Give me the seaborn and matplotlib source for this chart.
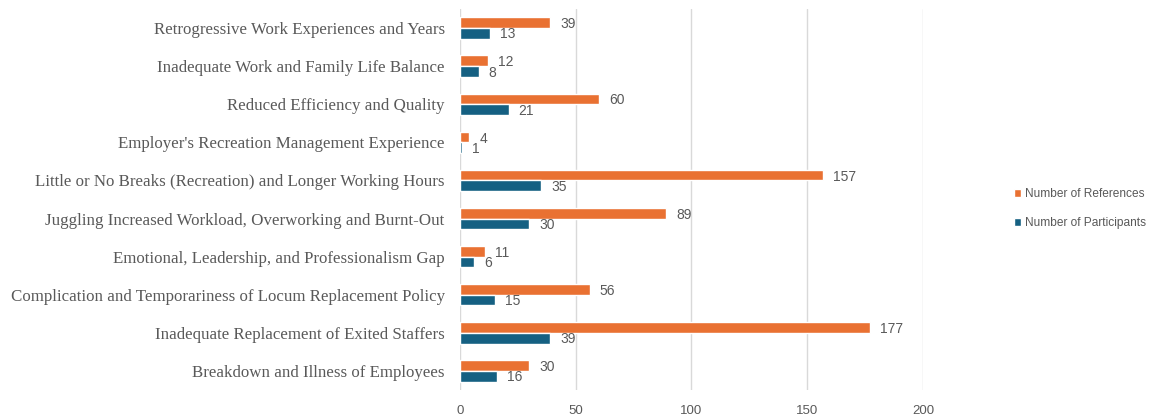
import matplotlib
matplotlib.use("Agg")
import matplotlib.pyplot as plt
import seaborn as sns
import pandas as pd
from matplotlib.patches import Patch

categories = [
    "Retrogressive Work Experiences and Years",
    "Inadequate Work and Family Life Balance",
    "Reduced Efficiency and Quality",
    "Employer's Recreation Management Experience",
    "Little or No Breaks (Recreation) and Longer Working Hours",
    "Juggling Increased Workload, Overworking and Burnt-Out",
    "Emotional, Leadership, and Professionalism Gap",
    "Complication and Temporariness of Locum Replacement Policy",
    "Inadequate Replacement of Exited Staffers",
    "Breakdown and Illness of Employees",
]
references = [39, 12, 60, 4, 157, 89, 11, 56, 177, 30]
participants = [13, 8, 21, 1, 35, 30, 6, 15, 39, 16]
series_names = ["Number of References", "Number of Participants"]
x_ticks = [0, 50, 100, 150, 200]

colors = {"Number of References": "#E97132", "Number of Participants": "#156082"}
text_color = "#595959"

df = pd.DataFrame({
    "category": categories * 2,
    "value": references + participants,
    "series": [series_names[0]] * len(categories) + [series_names[1]] * len(categories),
})

sns.set_style("white")
fig = plt.figure(figsize=(11.5, 4.16), dpi=100)
ax = fig.add_axes([0.4, 0.0625, 0.4026, 0.916])

sns.barplot(data=df, y="category", x="value", hue="series", order=categories,
            hue_order=series_names, palette=colors, orient="h", width=0.56,
            ax=ax, legend=False, saturation=1)

ax.set_xlim(0, 200)
ax.set_xticks(x_ticks)
ax.set_xlabel("")
ax.set_ylabel("")
ax.grid(axis="x", color="#D9D9D9", linewidth=1)
ax.set_axisbelow(True)
for s in ax.spines.values():
    s.set_visible(False)
ax.tick_params(axis="both", length=0)
ax.tick_params(axis="y", pad=11)
ax.tick_params(axis="x", pad=11)
for lbl in ax.get_yticklabels():
    lbl.set_fontfamily("Liberation Serif")
    lbl.set_fontsize(12.2)
    lbl.set_color(text_color)
for lbl in ax.get_xticklabels():
    lbl.set_fontfamily("Liberation Sans")
    lbl.set_fontsize(9.5)
    lbl.set_color(text_color)

num_font = "Liberation Sans"
for i, cont in enumerate(ax.containers):
    for bar in cont:
        w = bar.get_width()
        yc = bar.get_y() + bar.get_height() / 2
        dy = 0.04 if i == 0 else 0.03
        ax.text(w + 4.3, yc + dy, f"{int(round(w))}", va="center", ha="left",
                fontsize=10, color=text_color, family=num_font)

handles = [Patch(facecolor=colors[n], label=n) for n in series_names]
fig.legend(handles=handles, loc="center left", bbox_to_anchor=(0.872, 0.498),
           frameon=False, handlelength=0.6, handleheight=0.6, handletextpad=0.35,
           labelspacing=1.4, prop={"family": num_font, "size": 8.6}, labelcolor=text_color)

fig.savefig("out.png", dpi=100)
